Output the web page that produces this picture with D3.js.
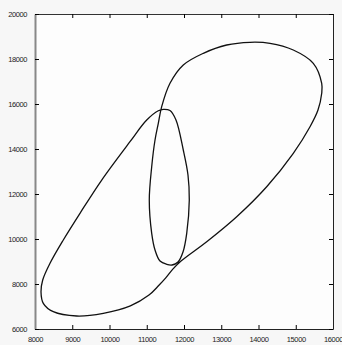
<!DOCTYPE html>
<html>
<head>
<meta charset="utf-8">
<script src="https://d3js.org/d3.v7.min.js"></script>
<style>
  body { margin: 0; background: #f7f7f7; }
  svg { display: block; }
  .tick text { font-family: "Liberation Sans", Arial, sans-serif; font-size: 7.5px; fill: #222; letter-spacing: -0.4px; }
</style>
</head>
<body>
<div id="chart"></div>
<script>
var width = 342, height = 345;
var margin = {top: 14, right: 9, bottom: 16, left: 35};

// one closed trajectory
var xValues = [11510, 11320, 11060, 10560, 9834, 9119, 8491, 8223, 8161, 8207,
  8403, 8760, 9208, 9791, 10550, 10999, 11310, 11444, 11624, 11785,
  11981, 12107, 12142, 12073, 11973, 11839, 11678, 11536, 11356, 11222,
  11133, 11068, 11133, 11222, 11310, 11401, 11624, 11981, 12518, 13146,
  13772, 14309, 14934, 15471, 15697, 15697, 15597, 15383, 14934, 14220,
  13415, 12610, 11920, 11700];
var yValues = [8270, 7930, 7510, 7030, 6698, 6578, 6769, 7142, 7658, 8178,
  8920, 9956, 11142, 12622, 14324, 15289, 15702, 15764, 15711, 15289,
  13956, 12844, 11733, 10253, 9422, 8978, 8844, 8876, 9022, 9511,
  10253, 11733, 13213, 14400, 15142, 15880, 16920, 17733, 18253, 18622,
  18742, 18698, 18400, 17809, 16920, 16476, 15733, 14991, 13809, 12324,
  10991, 9880, 9020, 8660];

var xTicks = [8000, 9000, 10000, 11000, 12000, 13000, 14000, 15000, 16000];
var yTicks = [6000, 8000, 10000, 12000, 14000, 16000, 18000, 20000];

var points = xValues.map(function(x, i) { return [x, yValues[i]]; });

var svg = d3.select("#chart").append("svg")
  .attr("width", width)
  .attr("height", height);

var x = d3.scaleLinear().domain([8000, 16000]).range([margin.left, width - margin.right]);
var y = d3.scaleLinear().domain([6000, 20000]).range([height - margin.bottom, margin.top]);

svg.append("rect")
  .attr("x", x(8000)).attr("y", y(20000))
  .attr("width", x(16000) - x(8000)).attr("height", y(6000) - y(20000))
  .attr("fill", "#fdfdfd");

var fmt = d3.format("d");

svg.append("g")
  .attr("transform", "translate(0," + y(6000) + ")")
  .call(d3.axisBottom(x).tickValues(xTicks).tickFormat(fmt).tickSizeInner(-4).tickSizeOuter(0).tickPadding(8))
  .call(function(g) { g.select(".domain").attr("stroke", "#222"); });

svg.append("g")
  .attr("transform", "translate(0," + y(20000) + ")")
  .call(d3.axisTop(x).tickValues(xTicks).tickFormat("").tickSizeInner(-4).tickSizeOuter(0))
  .call(function(g) { g.select(".domain").attr("stroke", "#333"); });

svg.append("g")
  .attr("transform", "translate(" + x(8000) + ",0)")
  .call(d3.axisLeft(y).tickValues(yTicks).tickFormat(fmt).tickSizeInner(-4).tickSizeOuter(0).tickPadding(8))
  .call(function(g) { g.select(".domain").attr("stroke", "#888").attr("stroke-width", 2); });

svg.append("g")
  .attr("transform", "translate(" + x(16000) + ",0)")
  .call(d3.axisRight(y).tickValues(yTicks).tickFormat("").tickSizeInner(-4).tickSizeOuter(0))
  .call(function(g) { g.select(".domain").attr("stroke", "#222"); });

var line = d3.line()
  .x(function(d) { return x(d[0]); })
  .y(function(d) { return y(d[1]); })
  .curve(d3.curveCatmullRomClosed.alpha(0.5));

svg.append("path")
  .datum(points)
  .attr("d", line)
  .attr("fill", "none")
  .attr("stroke", "#111")
  .attr("stroke-width", 1.3);
</script>
</body>
</html>
